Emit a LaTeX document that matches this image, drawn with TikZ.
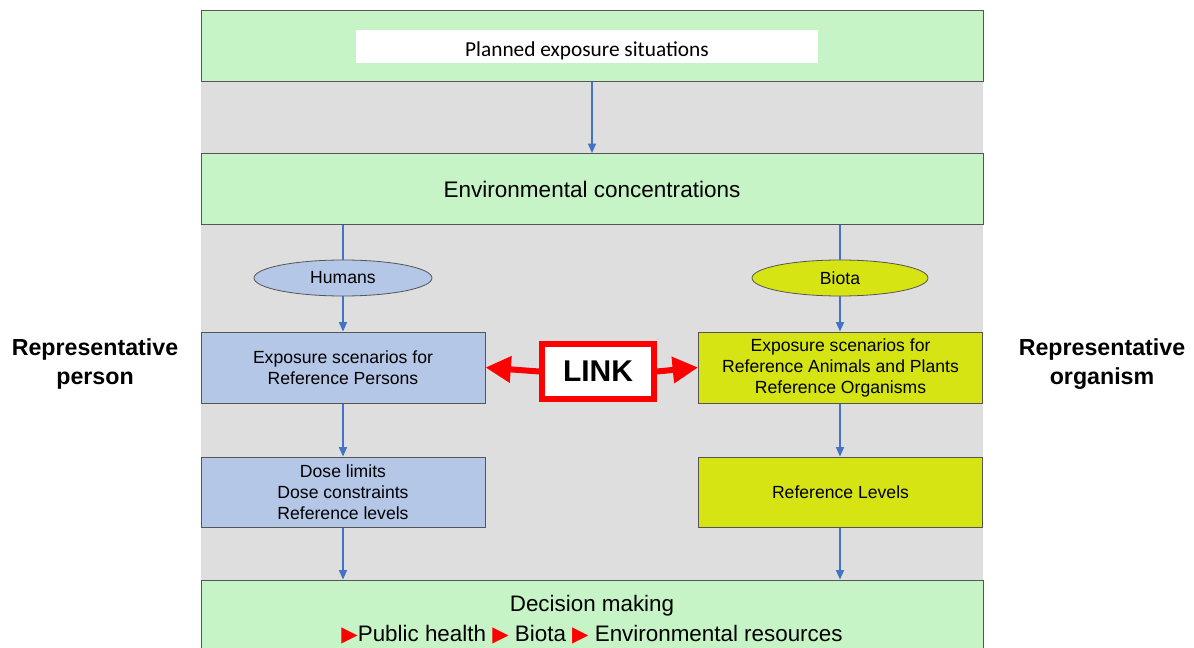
\documentclass[tikz,border=0pt]{standalone}
\usepackage{fontspec}
\setmainfont{Liberation Sans}
\newfontfamily\carlito{Carlito}
\newfontfamily\dejavu{DejaVu Sans}
\usepackage{tikz}
\usetikzlibrary{arrows.meta,shapes.geometric}
\definecolor{boxgreen}{RGB}{198,244,198}
\definecolor{panelgrey}{RGB}{222,222,222}
\definecolor{humblue}{RGB}{180,199,231}
\definecolor{biotagreen}{RGB}{214,228,20}
\definecolor{flowblue}{RGB}{68,114,196}
\definecolor{edgegrey}{RGB}{85,85,85}
\newcommand{\redtri}{{\color{red}\dejavu\fontsize{16}{16}\selectfont ▶}}

\begin{document}
\begin{tikzpicture}[x=0.75pt,y=-0.75pt,
  wide/.style={draw=edgegrey,line width=0.75pt,fill=boxgreen,minimum width=586.5pt,minimum height=53.25pt,inner sep=0pt,align=center},
  half/.style={draw=edgegrey,line width=0.75pt,minimum width=213pt,minimum height=53.25pt,inner sep=0pt,align=center,font=\fontsize{13.2}{15.75}\selectfont},
  oval/.style={ellipse,draw=edgegrey,line width=0.6pt,minimum width=133.5pt,minimum height=27pt,inner sep=0pt,font=\fontsize{13.2}{15}\selectfont},
  flow/.style={draw=flowblue,line width=0.9pt,-{Triangle[width=6pt,length=7pt]}},
  side/.style={align=center,font=\bfseries\fontsize{17.4}{21.75}\selectfont}]
 \useasboundingbox (0,0) rectangle (1194,648);
 \clip (0,0) rectangle (1194,648);
 \fill[panelgrey] (201,11) rectangle (983,660);

 \node[wide] (plan) at (592,46.5) {};
 \node[fill=white,minimum width=346.5pt,minimum height=24.75pt,inner sep=0pt,text height=15pt,text depth=0pt,font=\carlito\fontsize{16}{19}\selectfont] (plantxt) at (587,46.5) {Planned exposure situations};
 \node[wide,font=\fontsize{16.9}{20}\selectfont] (env) at (592,189) {Environmental concentrations};

 \node[oval,fill=humblue] (hum) at (343,278) {Humans};
 \node[oval,fill=biotagreen,minimum width=132pt] (bio) at (840,278) {Biota};

 \node[half,fill=humblue] (pers) at (343,367.5) {Exposure scenarios for\\Reference Persons};
 \node[half,fill=biotagreen] (orgs) at (840.5,367.5) {Exposure scenarios for\\Reference Animals and Plants\\Reference Organisms};
 \node[half,fill=humblue,minimum height=52.5pt] (dose) at (343,492) {Dose limits\\Dose constraints\\Reference levels};
 \node[half,fill=biotagreen,minimum height=52.5pt] (lev) at (840.5,492) {Reference Levels};

 \node[wide,minimum height=60pt,font=\fontsize{16.8}{22.5}\selectfont] (dec) at (592,620) {Decision making\\\redtri Public health \redtri\ Biota \redtri\ Environmental resources};

 \node[draw=red,line width=4.5pt,fill=white,minimum width=84pt,minimum height=41.25pt,font=\bfseries\fontsize{22.5}{27}\selectfont] (link) at (598,371.5) {LINK};

 \node[side] (rp) at (95,364) {Representative\\person};
 \node[side] (ro) at (1102,364) {Representative\\organism};

 \draw[flow] (plan.south -| env.north) -- (env.north);
 \draw[draw=flowblue,line width=0.9pt] (env.south -| hum.north) -- (hum.north);
 \draw[draw=flowblue,line width=0.9pt] (env.south -| bio.north) -- (bio.north);
 \draw[flow] (hum.south) -- (pers.north);
 \draw[flow] (bio.south) -- (bio.south |- orgs.north);
 \draw[flow] (pers.south) -- (dose.north);
 \draw[flow] (bio.south |- orgs.south) -- (bio.south |- lev.north);
 \draw[flow] (dose.south) -- (dose.south |- dec.north);
 \draw[flow] (bio.south |- lev.south) -- (bio.south |- dec.north);

 \draw[red,line width=4.5pt,-{Triangle[width=19pt,length=19pt]}] (link.west) -- (pers.east);
 \draw[red,line width=4.5pt,-{Triangle[width=19pt,length=19pt]}] (link.east) -- (orgs.west);
\end{tikzpicture}
\end{document}
